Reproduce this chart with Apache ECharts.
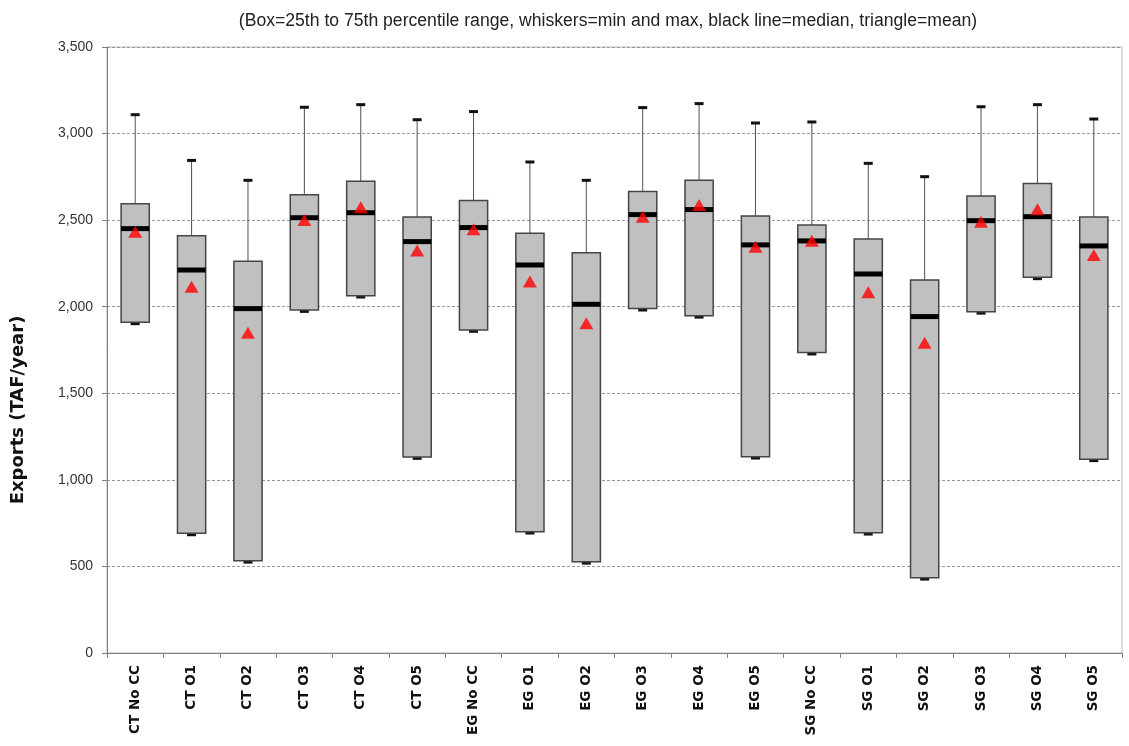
<!DOCTYPE html>
<html>
<head>
<meta charset="utf-8">
<script src="https://cdn.jsdelivr.net/npm/echarts@6/dist/echarts.min.js"></script>
<style>
html,body{margin:0;padding:0;background:#fff;}
#chart{width:1129px;height:746px;}
</style>
</head>
<body>
<div id="chart"></div>
<script>
const titleText = '(Box=25th to 75th percentile range, whiskers=min and max, black line=median, triangle=mean)';
const yAxisTitle = 'Exports (TAF/year)';
const categories = ['CT No CC','CT O1','CT O2','CT O3','CT O4','CT O5','EG No CC','EG O1','EG O2','EG O3','EG O4','EG O5','SG No CC','SG O1','SG O2','SG O3','SG O4','SG O5'];
const maxValues    = [3109,2845,2730,3152,3167,3080,3127,2836,2730,3150,3173,3061,3067,2828,2751,3155,3167,3084];
const q3Values     = [2595,2410,2262,2647,2724,2518,2613,2424,2312,2665,2730,2524,2472,2391,2154,2640,2711,2518];
const medianValues = [2451,2212,1989,2514,2543,2376,2457,2241,2014,2532,2561,2357,2380,2189,1943,2497,2520,2351];
const q1Values     = [1910,691,533,1981,2064,1132,1866,701,527,1989,1948,1134,1735,695,435,1971,2170,1119];
const minValues    = [1902,683,525,1973,2056,1124,1858,693,519,1981,1940,1126,1727,687,427,1963,2162,1111];
const meanValues   = [2433,2116,1850,2501,2574,2324,2447,2145,1904,2520,2588,2347,2381,2083,1792,2491,2563,2299];
const yTicks = {min: 0, max: 3500, interval: 500};

const boxData = categories.map((c, i) => [i, minValues[i], q1Values[i], medianValues[i], q3Values[i], maxValues[i]]);
const meanData = categories.map((c, i) => [i, meanValues[i]]);

const chart = echarts.init(document.getElementById('chart'));

function renderBox(params, api) {
  const idx = api.value(0);
  const pMin = api.coord([idx, api.value(1)]);
  const pQ1 = api.coord([idx, api.value(2)]);
  const pMed = api.coord([idx, api.value(3)]);
  const pQ3 = api.coord([idx, api.value(4)]);
  const pMax = api.coord([idx, api.value(5)]);
  const bw = api.size([1, 0])[0] * 0.5;
  const x = pQ1[0];
  const capW = 9;
  return {
    type: 'group',
    children: [
      {type: 'line', shape: {x1: x, y1: pMax[1], x2: x, y2: pQ3[1]}, style: {stroke: '#505050', lineWidth: 1}},
      {type: 'line', shape: {x1: x, y1: pQ1[1], x2: x, y2: pMin[1]}, style: {stroke: '#505050', lineWidth: 1}},
      {type: 'rect', shape: {x: x - capW / 2, y: pMax[1] - 1.5, width: capW, height: 3}, style: {fill: '#111'}},
      {type: 'rect', shape: {x: x - capW / 2, y: pMin[1] - 1.5, width: capW, height: 3}, style: {fill: '#111'}},
      {type: 'rect', shape: {x: x - bw / 2, y: pQ3[1], width: bw, height: pQ1[1] - pQ3[1]}, style: {fill: '#c0c0c0', stroke: '#454545', lineWidth: 1.5}},
      {type: 'rect', shape: {x: x - bw / 2, y: pMed[1] - 2.5, width: bw, height: 5}, style: {fill: '#000'}}
    ]
  };
}

chart.setOption({
  animation: false,
  backgroundColor: '#fff',
  title: {
    text: titleText,
    left: 603,
    top: 7,
    textAlign: 'center',
    textStyle: {fontFamily: 'Arial, "Liberation Sans", sans-serif', fontSize: 17.6, fontWeight: 'normal', color: '#222'}
  },
  grid: {left: 107, right: 7, top: 47, bottom: 93, show: true, borderColor: '#b8b8b8', borderWidth: 1},
  xAxis: {
    type: 'category',
    data: categories,
    boundaryGap: true,
    axisLine: {lineStyle: {color: '#808080', width: 1}},
    axisTick: {show: true, length: 5, interval: 0, lineStyle: {color: '#808080'}},
    axisLabel: {rotate: 90, interval: 0, margin: 12, fontFamily: '"DejaVu Sans", sans-serif', fontWeight: 'bold', fontSize: 13.5, color: '#111'},
    splitLine: {show: false}
  },
  yAxis: {
    type: 'value',
    min: yTicks.min,
    max: yTicks.max,
    interval: yTicks.interval,
    axisLine: {show: true, lineStyle: {color: '#808080', width: 1}},
    axisTick: {show: true, length: 5, lineStyle: {color: '#808080'}},
    axisLabel: {margin: 14, fontFamily: 'Arial, "Liberation Sans", sans-serif', fontSize: 14, color: '#333',
      formatter: v => v.toLocaleString('en-US')},
    splitLine: {show: true, lineStyle: {color: '#999', type: [3, 2], width: 1}}
  },
  graphic: [{
    type: 'text',
    x: 18,
    y: 410,
    rotation: Math.PI / 2,
    style: {text: yAxisTitle, fontFamily: '"DejaVu Sans", sans-serif', fontWeight: 'bold', fontSize: 18, fill: '#111', textAlign: 'center', textVerticalAlign: 'middle'}
  }],
  series: [
    {
      type: 'custom',
      renderItem: renderBox,
      data: boxData,
      encode: {x: 0, y: [1, 2, 3, 4, 5]},
      z: 2
    },
    {
      type: 'scatter',
      data: meanData,
      symbol: 'triangle',
      symbolSize: [14, 12],
      itemStyle: {color: '#ff0000'},
      z: 3
    }
  ]
});
</script>
</body>
</html>
